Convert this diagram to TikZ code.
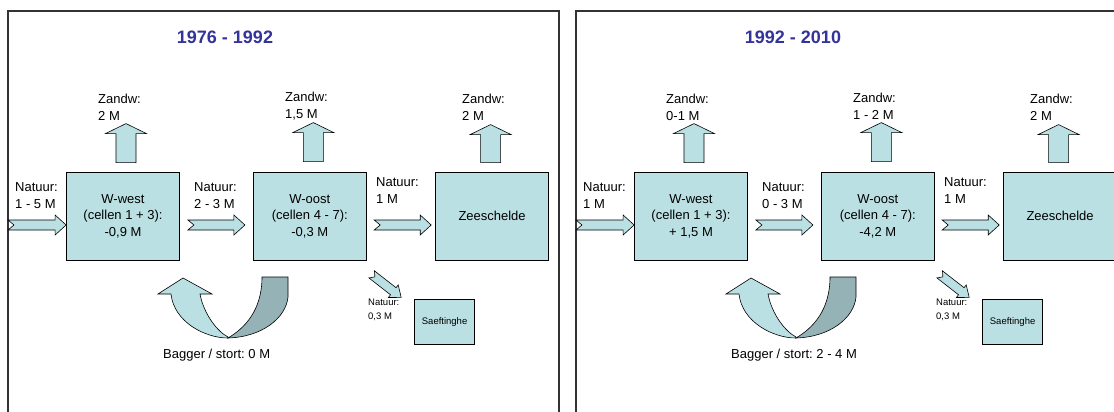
\documentclass[tikz,border=0pt]{standalone}
\usepackage{fontspec}
\setmainfont{Liberation Sans}
\usepackage{tikz}
\usetikzlibrary{positioning,calc}
\definecolor{cellfill}{HTML}{BBE0E3}
\definecolor{bendfill}{HTML}{95B3B6}
\definecolor{titleblue}{HTML}{333399}
\frenchspacing
\tikzset{
  blk/.style n args={4}{to path={let \p1=(\tikztostart), \p2=(\tikztotarget),
      \n1={atan2(\y2-\y1,\x2-\x1)}, \n2={veclen(\x2-\x1,\y2-\y1)} in
      ($(\p1)+(\n1+90:#1)$)
      -- ($(\p1)+(\n1:{\n2-#3})+(\n1+90:#1)$)
      -- ($(\p1)+(\n1:{\n2-#3})+(\n1+90:#2)$)
      -- (\p2)
      -- ($(\p1)+(\n1:{\n2-#3})+(\n1-90:#2)$)
      -- ($(\p1)+(\n1:{\n2-#3})+(\n1-90:#1)$)
      -- ($(\p1)+(\n1-90:#1)$)
      -- ($(\p1)+(\n1:#4)$) -- cycle}}
}

\begin{document}
\begin{tikzpicture}[x=1pt, y=-1pt,
    box/.style={rectangle, draw, fill=cellfill, line width=0.8pt, minimum width=113pt,
        minimum height=88pt, align=center, inner sep=1pt,
        font=\fontsize{13}{16.5}\selectfont},
    smallbox/.style={rectangle, draw, fill=cellfill, line width=0.8pt, minimum width=60pt,
        minimum height=45pt, align=center, font=\fontsize{9.5}{12}\selectfont},
    lbl/.style={anchor=west, align=left, inner sep=0pt, font=\fontsize{13}{17}\selectfont},
    smalllbl/.style={lbl, font=\fontsize{9.5}{14}\selectfont},
    title/.style={font=\fontsize{18}{22}\bfseries\selectfont, text=titleblue},
    frame/.style={draw=black!80, line width=1.3pt},
    flow/.style={draw, fill=cellfill, line width=0.6pt, line join=miter},
    harrow/.style={blk={5pt}{10pt}{11pt}{6pt}},
    uparrow/.style={blk={10pt}{20.5pt}{10pt}{0pt}},
    diagarrow/.style={blk={4.5pt}{8pt}{10pt}{4pt}}
]
    \clip (0,0) rectangle (1114,412);

    % 1976 - 1992
    \begin{scope}
    \draw[frame] (8,11) rectangle (559,430);
    \node[title] (yrs1) at (225,37) {1976 - 1992};
    \node[box] (ww1) at (123,216) {W-west\\(cellen 1 + 3):\\-0,9 M};
    \node[box, right=73pt of ww1] (wo1) {W-oost\\(cellen 4 - 7):\\-0,3 M};
    \node[box, right=68.5pt of wo1] (zs1) {Zeeschelde};
    \node[smallbox, anchor=north west] (sf1) at ([shift={(-21,39)}]zs1.south west) {Saeftinghe};
    \node[lbl] (nin1) at (15,195.5) {Natuur:\\1 - 5 M};
    \node[lbl] (nmid1) at (194,195.5) {Natuur:\\2 - 3 M};
    \node[lbl] (nout1) at (376,190.5) {Natuur:\\1 M};
    \node[lbl] (zw1) at (98,107) {Zandw:\\2 M};
    \node[lbl] (zo1) at (285,106) {Zandw:\\1,5 M};
    \node[lbl] (zz1) at (462,107) {Zandw:\\2 M};
    \node[smalllbl] (nsf1) at (368,310) {Natuur:\\0,3 M};
    \node[lbl] (bag1) at (163,355) {Bagger / stort: 0 M};
    \coordinate (in1) at (8,225);

    \draw[flow] (in1) to[harrow] (ww1.west |- in1);
    \draw[flow] ([shift={(8,9)}]ww1.east) to[harrow] ([shift={(-8,9)}]wo1.west);
    \draw[flow] ([shift={(7.5,9)}]wo1.east) to[harrow] ([shift={(-4,9)}]zs1.west);
    \draw[flow] ([shift={(3,-9)}]ww1.north) to[uparrow] ([shift={(3,-48)}]ww1.north);
    \draw[flow] ([shift={(3.5,-10)}]wo1.north) to[uparrow] ([shift={(3.5,-49)}]wo1.north);
    \draw[flow] ([shift={(-1.5,-9)}]zs1.north) to[uparrow] ([shift={(-1.5,-47)}]zs1.north);
    \draw[flow] ([shift={(5,14)}]wo1.south east) to[diagarrow] ([shift={(-13,-2)}]sf1.north west);
    % bagger / stort bend
    \draw[flow, fill=bendfill] (262,277) -- (288,277) -- (288,297)
        .. controls (286,318) and (262,337) .. (228,338)
        .. controls (245,328) and (262,310) .. (262,277) -- cycle;
    \draw[flow] (228,338) .. controls (205,338) and (174,322) .. (171,294)
        -- (158,294) -- (183,278) -- (212,294) -- (200,294)
        .. controls (204,315) and (218,332) .. (228,337) -- cycle;
    \end{scope}

    % 1992 - 2010
    \begin{scope}[xshift=568pt]
    \draw[frame] (8,11) rectangle (559,430);
    \node[title] (yrs2) at (225,37) {1992 - 2010};
    \node[box] (ww2) at (123,216) {W-west\\(cellen 1 + 3):\\+ 1,5 M};
    \node[box, right=73pt of ww2] (wo2) {W-oost\\(cellen 4 - 7):\\-4,2 M};
    \node[box, right=68.5pt of wo2] (zs2) {Zeeschelde};
    \node[smallbox, anchor=north west] (sf2) at ([shift={(-21,39)}]zs2.south west) {Saeftinghe};
    \node[lbl] (nin2) at (15,195.5) {Natuur:\\1 M};
    \node[lbl] (nmid2) at (194,195.5) {Natuur:\\0 - 3 M};
    \node[lbl] (nout2) at (376,190.5) {Natuur:\\1 M};
    \node[lbl] (zw2) at (98,107) {Zandw:\\0-1 M};
    \node[lbl] (zo2) at (285,106) {Zandw:\\1 - 2 M};
    \node[lbl] (zz2) at (462,107) {Zandw:\\2 M};
    \node[smalllbl] (nsf2) at (368,310) {Natuur:\\0,3 M};
    \node[lbl] (bag2) at (163,355) {Bagger / stort: 2 - 4 M};
    \coordinate (in2) at (8,225);

    \draw[flow] (in2) to[harrow] (ww2.west |- in2);
    \draw[flow] ([shift={(8,9)}]ww2.east) to[harrow] ([shift={(-8,9)}]wo2.west);
    \draw[flow] ([shift={(7.5,9)}]wo2.east) to[harrow] ([shift={(-4,9)}]zs2.west);
    \draw[flow] ([shift={(3,-9)}]ww2.north) to[uparrow] ([shift={(3,-48)}]ww2.north);
    \draw[flow] ([shift={(3.5,-10)}]wo2.north) to[uparrow] ([shift={(3.5,-49)}]wo2.north);
    \draw[flow] ([shift={(-1.5,-9)}]zs2.north) to[uparrow] ([shift={(-1.5,-47)}]zs2.north);
    \draw[flow] ([shift={(5,14)}]wo2.south east) to[diagarrow] ([shift={(-13,-2)}]sf2.north west);
    % bagger / stort bend
    \draw[flow, fill=bendfill] (262,277) -- (288,277) -- (288,297)
        .. controls (286,318) and (262,337) .. (228,338)
        .. controls (245,328) and (262,310) .. (262,277) -- cycle;
    \draw[flow] (228,338) .. controls (205,338) and (174,322) .. (171,294)
        -- (158,294) -- (183,278) -- (212,294) -- (200,294)
        .. controls (204,315) and (218,332) .. (228,337) -- cycle;
    \end{scope}
\end{tikzpicture}
\end{document}
